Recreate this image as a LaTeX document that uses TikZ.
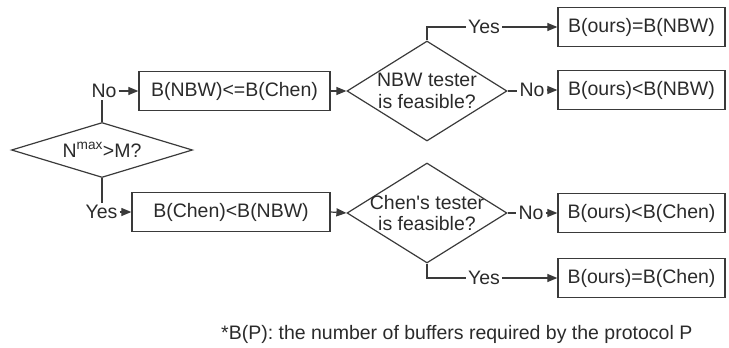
\documentclass[tikz,border=0pt]{standalone}
\usepackage{fontspec}
\setmainfont{Liberation Sans}
\usetikzlibrary{shapes.geometric,arrows.meta}
\definecolor{ln}{HTML}{3A3A3A}
\definecolor{tx}{HTML}{2A2A2A}
\begin{document}
\begin{tikzpicture}[x=1pt,y=-1pt,
  every node/.style={font=\fontsize{19.5}{21.5}\selectfont, text=tx},
  box/.style={draw=ln, line width=1.3pt, minimum height=39pt, inner sep=0pt},
  dia/.style={draw=ln, line width=1.2pt, diamond, inner sep=0pt},
  lbl/.style={inner sep=2pt},
  conn/.style={draw=ln, line width=1.2pt},
  arr/.style={conn, -{Triangle[length=10pt,width=8pt]}}]
\useasboundingbox (0,0) rectangle (729,348);

% decision diamonds
\node[dia, minimum width=181pt, minimum height=55pt] (d1) at (102,150) {};
\node (d1t) at (d1.center) {N\textsuperscript{max}>M?};
\node[dia, minimum width=160pt, minimum height=100pt] (d2) at (427,91) {};
\node[align=center] (d2t) at (d2.center) {NBW tester\\is feasible?};
\node[dia, minimum width=160pt, minimum height=100pt] (d3) at (427,213) {};
\node[align=center] (d3t) at (d3.center) {Chen\textquotesingle s tester\\is feasible?};

% boxes
\node[box, minimum width=191pt] (b1) at (234.5,91) {B(NBW)<=B(Chen)};
\node[box, minimum width=198pt] (b2) at (231,212) {B(Chen)<B(NBW)};
\node[box, minimum width=167pt] (b3) at (641.5,27) {B(ours)=B(NBW)};
\node[box, minimum width=167pt] (b4) at (641.5,90) {B(ours)<B(NBW)};
\node[box, minimum width=167pt] (b5) at (641.5,213) {B(ours)<B(Chen)};
\node[box, minimum width=167pt] (b6) at (641.5,278) {B(ours)=B(Chen)};

% labels
\node[lbl] (no1) at (104,91) {No};
\node[lbl] (yes2) at (101.5,212) {Yes};
\node[lbl] (yes1) at (484,27) {Yes};
\node[lbl] (no2) at (532,90) {No};
\node[lbl] (no3) at (531,213) {No};
\node[lbl] (yes3) at (484,278) {Yes};

% connectors
\draw[conn] (d1.north) -- (d1.north |- no1.south);
\draw[arr] (no1.east) -- (b1.west);
\draw[conn] (d1.south) -- (d1.south |- yes2.north);
\draw[arr] (yes2.east) -- (b2.west);
\draw[arr] (b1.east) -- (d2.west);
\draw[arr] (b2.east) -- (d3.west);
\draw[conn] (d2.north) |- (yes1.west);
\draw[arr] (yes1.east) -- (b3.west);
\draw[conn] (d2.east) -- (d2.east -| no2.west);
\draw[arr] (no2.east) -- (no2.east -| b4.west);
\draw[conn] (d3.east) -- (no3.west);
\draw[arr] (no3.east) -- (b5.west);
\draw[conn] (d3.south) |- (yes3.west);
\draw[arr] (yes3.east) -- (b6.west);

% footnote
\node[anchor=west, inner sep=0pt] (fn) at (221,334) {*B(P): the number of buffers required by the protocol P};
\end{tikzpicture}
\end{document}
